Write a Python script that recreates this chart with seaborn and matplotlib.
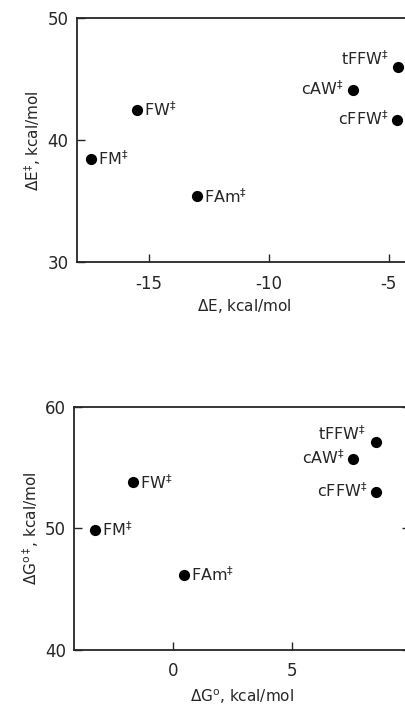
import pandas as pd
import matplotlib
matplotlib.use("Agg")
import matplotlib.pyplot as plt
import seaborn as sns

# data
species = ["FM", "FW", "FAm", "cAW", "tFFW", "cFFW"]
dE = [-17.4, -15.5, -13.0, -6.5, -4.6, -4.65]
dE_ts = [38.5, 42.5, 35.4, 44.1, 46.0, 41.7]
dG0 = [-3.3, -1.7, 0.45, 7.6, 8.55, 8.55]
dG_ts = [49.9, 53.8, 46.2, 55.7, 57.1, 53.0]

# label placement: right of the point or left of it
side = ["r", "r", "r", "l", "l", "l"]

df = pd.DataFrame({"species": species, "dE": dE, "dE_ts": dE_ts,
                   "dG0": dG0, "dG_ts": dG_ts, "side": side})

sns.set_style("ticks")
plt.rcParams["font.family"] = ["DejaVu Sans"]
plt.rcParams["mathtext.fontset"] = "dejavusans"
plt.rcParams["axes.unicode_minus"] = False

fig = plt.figure(figsize=(4.05, 7.07), dpi=100)
ax1 = fig.add_axes([0.19, 0.629, 0.829, 0.345])
ax2 = fig.add_axes([0.183, 0.081, 0.829, 0.343])


def draw(ax, xcol, ycol, xlim, ylim, xticks, yticks, xlabel, ylabel):
    sns.scatterplot(data=df, x=xcol, y=ycol, ax=ax, color="black", s=65,
                    edgecolor="black", linewidth=0, legend=False)
    for _, r in df.iterrows():
        name = r["species"] + r"$^{\ddagger}$"
        if r["side"] == "r":
            ax.annotate(name, (r[xcol], r[ycol]), xytext=(5, 0),
                        textcoords="offset points", ha="left", va="center",
                        fontsize=11.5)
        elif r["species"] == "tFFW":
            ax.annotate(name, (r[xcol], r[ycol]), xytext=(-7, 6),
                        textcoords="offset points", ha="right", va="center",
                        fontsize=11.5)
        else:
            ax.annotate(name, (r[xcol], r[ycol]), xytext=(-6, 1),
                        textcoords="offset points", ha="right", va="center",
                        fontsize=11.5)
    ax.set_xlim(xlim)
    ax.set_ylim(ylim)
    ax.set_xticks(xticks)
    ax.set_yticks(yticks)
    ax.tick_params(direction="in", length=6, width=1, right=True,
                   labelsize=12, pad=9)
    ax.tick_params(axis="y", pad=6)
    for sp in ax.spines.values():
        sp.set_linewidth(1.3)
    # right edge of the frame falls outside the picture
    ax.spines["right"].set_visible(False)
    ax.set_xlabel(xlabel, fontsize=11, labelpad=3)
    ax.set_ylabel(ylabel, fontsize=11, labelpad=3)


draw(ax1, "dE", "dE_ts", (-18, -4), (30, 50), [-15, -10, -5], [30, 40, 50],
     r"$\Delta$E, kcal/mol", r"$\Delta$E$^{\ddagger}$, kcal/mol")
draw(ax2, "dG0", "dG_ts", (-4.2, 10), (40, 60), [0, 5], [40, 50, 60],
     r"$\Delta$G$^{\mathrm{o}}$, kcal/mol",
     r"$\Delta$G$^{\mathrm{o}\ddagger}$, kcal/mol")
ax2.xaxis.labelpad = 5

fig.savefig("out.png", dpi=100)
